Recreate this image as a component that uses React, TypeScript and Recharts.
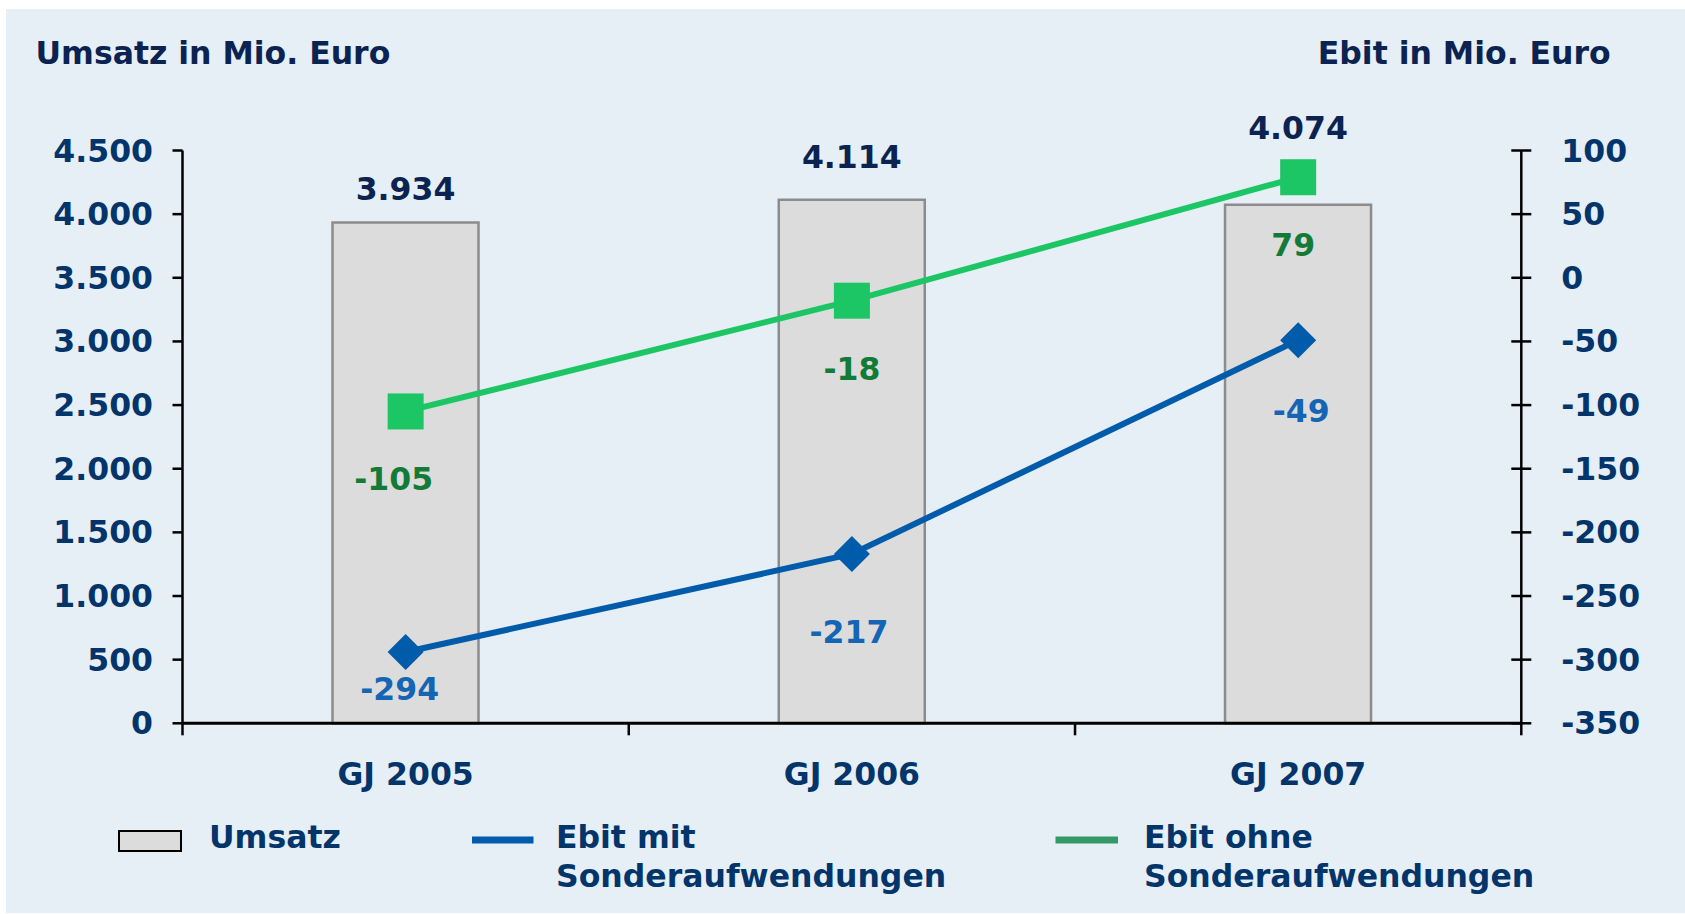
import React from 'react';
import { ComposedChart, Bar, Line, XAxis, YAxis, LabelList } from 'recharts';

const categories = ['GJ 2005', 'GJ 2006', 'GJ 2007'];
const umsatz = [3934, 4114, 4074];
const ebitMit = [-294, -217, -49];
const ebitOhne = [-105, -18, 79];
const leftTicks = [0, 500, 1000, 1500, 2000, 2500, 3000, 3500, 4000, 4500];
const rightTicks = [-350, -300, -250, -200, -150, -100, -50, 0, 50, 100];

const data = categories.map((cat, i) => ({
  cat,
  pos: i + 0.5,
  umsatz: umsatz[i],
  mit: ebitMit[i],
  ohne: ebitOhne[i],
}));

const FONT = '"DejaVu Sans", Verdana, sans-serif';
const NAVY = '#0B2350';
const AXIS_TEXT = '#03346A';
const GREEN = '#1CC664';
const GREEN_LABEL = '#127B37';
const BLUE = '#005BAA';
const BLUE_LABEL = '#1565B5';
const FS = 31.5;

const fmt = (v: number) => String(v).replace(/\B(?=(\d{3})+(?!\d))/g, '.');

const W = 1679;
const H = 904;

const barLabelDy = [-23, -32, -66];
const blueLabelDy = [48, 89, 82];
const blueLabelDx = [-6, -3, 3];
const greenLabelDx = [-12, 0, -5];

const LeftTick = (props: any) => {
  const { x, y, payload } = props;
  return (
    <text x={x} y={y} dy={11} textAnchor="end" fill={AXIS_TEXT} fontFamily={FONT} fontWeight="bold" fontSize={FS}>
      {fmt(payload.value)}
    </text>
  );
};

const RightTick = (props: any) => {
  const { x, y, payload } = props;
  return (
    <g>
      <line x1={x - 50} x2={x - 30} y1={y} y2={y} stroke="#000" strokeWidth={2.5} />
      <text x={x} y={y} dy={11} textAnchor="start" fill={AXIS_TEXT} fontFamily={FONT} fontWeight="bold" fontSize={FS}>
        {payload.value}
      </text>
    </g>
  );
};

const CatTick = (props: any) => {
  const { x, y, payload } = props;
  return (
    <text x={x} y={y + 50} textAnchor="middle" fill={AXIS_TEXT} fontFamily={FONT} fontWeight="bold" fontSize={FS}>
      {payload.value}
    </text>
  );
};

const SquareDot = (props: any) => {
  const { cx, cy, index } = props;
  return <rect key={'sq' + index} x={cx - 18} y={cy - 18} width={36} height={36} fill={GREEN} />;
};

const DiamondDot = (props: any) => {
  const { cx, cy, index } = props;
  const r = 18;
  return (
    <path
      key={'dm' + index}
      d={`M${cx},${cy - r} L${cx + r},${cy} L${cx},${cy + r} L${cx - r},${cy} Z`}
      fill={BLUE}
    />
  );
};

const BarLabel = (props: any) => {
  const { x, y, width, value, index } = props;
  return (
    <text x={x + width / 2} y={y + barLabelDy[index]} textAnchor="middle" fill={NAVY} fontFamily={FONT} fontWeight="bold" fontSize={FS}>
      {fmt(value)}
    </text>
  );
};

const GreenLabel = (props: any) => {
  const { x, y, value, index } = props;
  return (
    <text x={x + greenLabelDx[index]} y={y + 79} textAnchor="middle" fill={GREEN_LABEL} fontFamily={FONT} fontWeight="bold" fontSize={FS}>
      {value}
    </text>
  );
};

const BlueLabel = (props: any) => {
  const { x, y, value, index } = props;
  return (
    <text x={x + blueLabelDx[index]} y={y + blueLabelDy[index]} textAnchor="middle" fill={BLUE_LABEL} fontFamily={FONT} fontWeight="bold" fontSize={FS}>
      {value}
    </text>
  );
};

const boundaryTicks = [...categories.map((_, i) => i), categories.length];

export default function App() {
  return (
    <div style={{ position: 'absolute', left: 6, top: 9, width: W, height: H, background: '#E6EEF6', fontFamily: FONT }}>
      <ComposedChart
        width={W}
        height={H}
        data={data}
        margin={{ top: 141.5, left: 6.5, right: 13.7, bottom: 117.7 }}
        style={{ position: 'absolute', left: 0, top: 0 }}
      >
        <XAxis
          xAxisId={0}
          dataKey="pos"
          type="number"
          domain={[0, categories.length]}
          ticks={boundaryTicks}
          interval={0}
          tickFormatter={() => ''}
          height={12}
          tickSize={12}
          tickLine={{ stroke: '#000', strokeWidth: 2.5 }}
          axisLine={{ stroke: '#000', strokeWidth: 3 }}
          allowDataOverflow
        />
        <XAxis
          xAxisId={1}
          dataKey="cat"
          height={60}
          axisLine={false}
          tickLine={false}
          tickSize={0}
          tickMargin={0}
          tick={<CatTick />}
          interval={0}
        />
        <YAxis
          yAxisId="left"
          orientation="left"
          width={170}
          domain={[0, 4500]}
          ticks={leftTicks}
          interval={0}
          tickSize={10}
          tickMargin={19.5}
          tickLine={{ stroke: '#000', strokeWidth: 2.5 }}
          axisLine={{ stroke: '#000', strokeWidth: 2.5 }}
          tick={<LeftTick />}
        />
        <YAxis
          yAxisId="right"
          orientation="right"
          width={150}
          domain={[-350, 100]}
          ticks={rightTicks}
          interval={0}
          tickSize={10}
          tickMargin={30}
          tickLine={false}
          axisLine={{ stroke: '#000', strokeWidth: 2.5 }}
          tick={<RightTick />}
        />
        <Bar
          xAxisId={1}
          yAxisId="left"
          dataKey="umsatz"
          barSize={146}
          fill="#DCDCDC"
          stroke="#8C8C8C"
          strokeWidth={2.5}
          isAnimationActive={false}
        >
          <LabelList dataKey="umsatz" content={<BarLabel />} />
        </Bar>
        <Line
          xAxisId={1}
          yAxisId="right"
          dataKey="mit"
          stroke={BLUE}
          strokeWidth={6}
          dot={<DiamondDot />}
          activeDot={false}
          isAnimationActive={false}
        >
          <LabelList dataKey="mit" content={<BlueLabel />} />
        </Line>
        <Line
          xAxisId={1}
          yAxisId="right"
          dataKey="ohne"
          stroke={GREEN}
          strokeWidth={6}
          dot={<SquareDot />}
          activeDot={false}
          isAnimationActive={false}
        >
          <LabelList dataKey="ohne" content={<GreenLabel />} />
        </Line>
      </ComposedChart>
      <svg width={W} height={H} style={{ position: 'absolute', left: 0, top: 0, pointerEvents: 'none' }}>
        <g fontFamily={FONT} fontWeight="bold" fontSize={FS}>
          <text x={29.5} y={55} fill={NAVY}>Umsatz in Mio. Euro</text>
          <text x={1604.7} y={55} fill={NAVY} textAnchor="end">Ebit in Mio. Euro</text>
          <rect x={113} y={822} width={62} height={20} fill="#DCDCDC" stroke="#000" strokeWidth={2} />
          <text x={203} y={839} fill={AXIS_TEXT}>Umsatz</text>
          <line x1={466} x2={527.5} y1={831} y2={831} stroke={BLUE} strokeWidth={7} />
          <text x={550} y={839} fill={AXIS_TEXT}>Ebit mit</text>
          <text x={550} y={878} fill={AXIS_TEXT}>Sonderaufwendungen</text>
          <line x1={1049.5} x2={1112} y1={831} y2={831} stroke="#339966" strokeWidth={7} />
          <text x={1138} y={839} fill={AXIS_TEXT}>Ebit ohne</text>
          <text x={1138} y={878} fill={AXIS_TEXT}>Sonderaufwendungen</text>
        </g>
      </svg>
    </div>
  );
}
